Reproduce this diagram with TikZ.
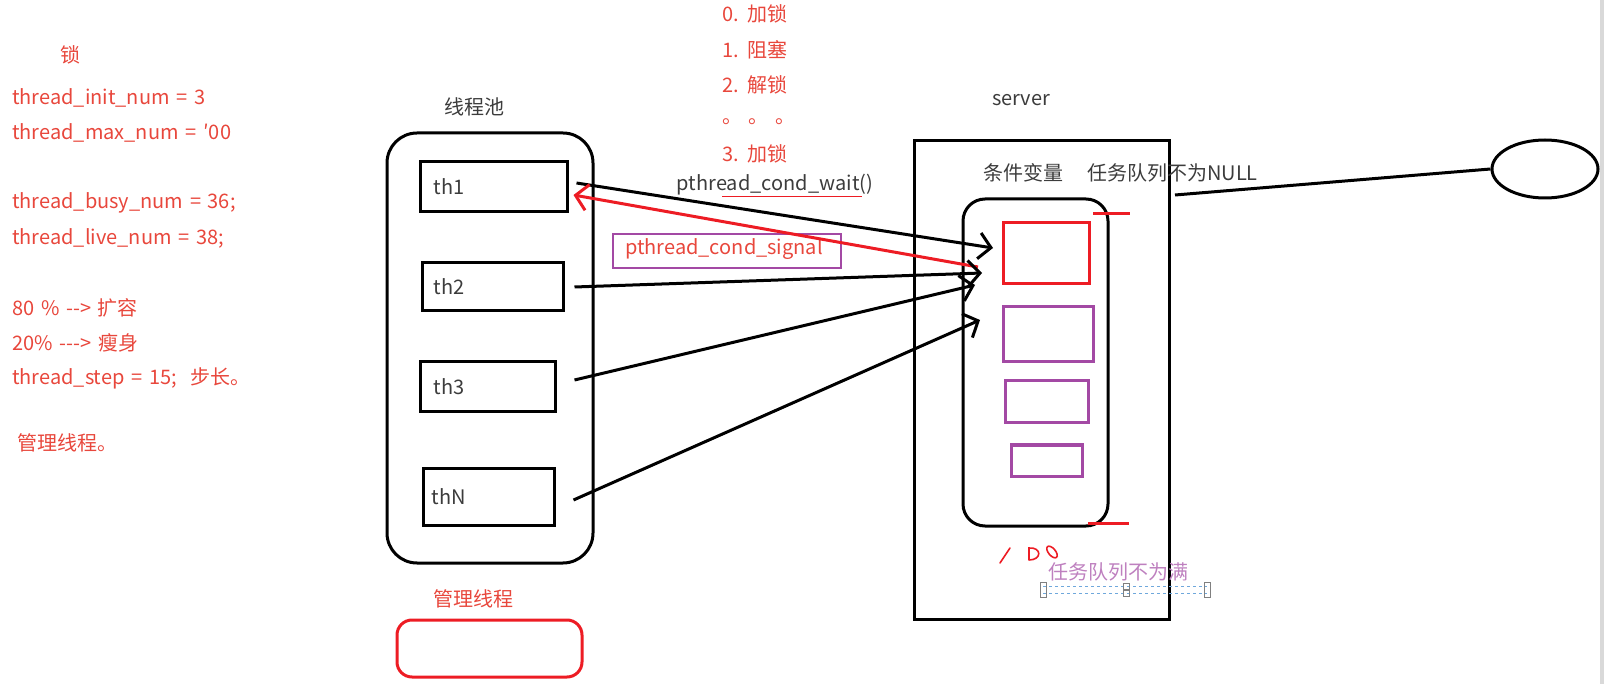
\documentclass[tikz,border=0pt]{standalone}
\usepackage{fontspec}
\setmainfont{Noto Sans CJK SC}[WordSpace=1.5]
\usepackage{tikz}
\usetikzlibrary{arrows.meta, shapes.geometric}
\definecolor{inkred}{HTML}{ED1C24}
\definecolor{notered}{HTML}{E8473C}
\definecolor{inkpurple}{HTML}{A349A4}
\definecolor{darktext}{HTML}{3C3C3C}
\definecolor{selblue}{HTML}{6FA8DC}
\newcommand{\notesize}{\fontsize{20}{24}\selectfont}

\begin{document}
\begin{tikzpicture}[x=1pt, y=-1pt, every node/.style={font=\notesize, inner sep=0pt},
  thbox/.style={draw, line width=3pt, minimum width=#1},
  qbox/.style={draw=inkpurple, line width=3pt, minimum width=#1},
  sendarrow/.style={line width=3pt, -{Straight Barb[length=12pt, width=26pt]}},
  sigarrow/.style={inkred, line width=3pt, -{Straight Barb[length=12pt, width=26pt]}}]
  \useasboundingbox (0,0) rectangle (1604,684);
  \fill[gray!30] (1600,0) rectangle (1604,684);
  % notes on the left
  \node[text=notered] at (70,55) {锁};
  \node[anchor=west, text=notered] at (12,98) {thread\_init\_num = 3};
  \node[anchor=west, text=notered] at (12,133) {thread\_max\_num = ′00};
  \node[anchor=west, text=notered] at (12,203) {thread\_busy\_num = 36;};
  \node[anchor=west, text=notered] at (12,238) {thread\_live\_num = 38;};
  \node[anchor=west, text=notered] at (12,308) {80 \% -{}-{}> 扩容};
  \node[anchor=west, text=notered] at (12,343) {20\% -{}-{}-{}> 瘦身};
  \node[anchor=west, text=notered] at (12,378) {thread\_step = 15;\ \ 步长。};
  \node[anchor=west, text=notered] at (17,443) {管理线程。};
  % steps of the wait
  \node[anchor=west, text=notered] at (722,14) {0. 加锁};
  \node[anchor=west, text=notered] at (722,50) {1. 阻塞};
  \node[anchor=west, text=notered] at (722,85) {2. 解锁};
  \node[anchor=west, text=notered] at (722,122) {。 。 。};
  \node[anchor=west, text=notered] at (722,154) {3. 加锁};
  % thread pool
  \node[text=darktext] (pooltitle) at (474,107) {线程池};
  \node[draw, line width=3pt, rounded corners=30pt, minimum width=206, minimum height=430] (pool) at (490,348) {};
  \node[thbox=147, minimum height=50] (th1) at (493.5,187) {};
  \node[thbox=141, minimum height=48] (th2) at (492.5,287) {};
  \node[thbox=135, minimum height=50] (th3) at (487.5,387) {};
  \node[thbox=131, minimum height=57] (thN) at (488.5,496.5) {};
  \node[anchor=west, text=darktext] at ([xshift=15pt]th1.west) {th1};
  \node[anchor=west, text=darktext] at ([xshift=13pt]th2.west) {th2};
  \node[anchor=west, text=darktext] at ([xshift=15pt]th3.west) {th3};
  \node[anchor=west, text=darktext] at ([xshift=10pt]thN.west) {thN};
  % manager thread
  \node[text=notered] (mgrtitle) at (473,599) {管理线程};
  \node[draw=inkred, line width=3pt, rounded corners=15pt, minimum width=185, minimum height=57] (mgr) at (489.5,648.5) {};
  % server
  \node[text=darktext] (srvtitle) at (1021,100) {server};
  \node[draw, line width=3pt, minimum width=255, minimum height=478] (srv) at (1041.5,380) {};
  \node[anchor=west, text=darktext] at (983,173) {条件变量};
  \node[anchor=west, text=darktext] at (1087,173) {任务队列不为NULL};
  \node[draw, line width=3pt, rounded corners=22pt, minimum width=145, minimum height=327] (queue) at (1035.5,362.5) {};
  \draw[inkred, line width=3pt] (1093,214) -- (1130,214);
  \draw[inkred, line width=3pt] (1088,523) -- (1129,523);
  \node[qbox=86, draw=inkred, minimum height=61] (q1) at (1046,253.5) {};
  \node[qbox=90, minimum height=55] (q2) at (1048,334.5) {};
  \node[qbox=83, minimum height=42] (q3) at (1046.5,402) {};
  \node[qbox=71, minimum height=31] (q4) at (1046.5,460.5) {};
  % handwritten 100
  \draw[inkred, line width=1.6pt, line cap=round] (1000,563) -- (1010,548);
  \draw[inkred, line width=1.6pt, line cap=round] (1029,560) -- (1029,548) .. controls (1042,547) and (1042,560) .. (1029,560);
  \draw[inkred, line width=1.6pt, rotate around={-50:(1052,552)}] (1052,552) ellipse (7 and 3.5);
  \node[anchor=west, text=inkpurple!70] (fulltext) at (1048,572) {任务队列不为满};
  \draw[selblue, dashed, line width=1pt] (1043,586) -- (1207,586);
  \draw[selblue, dashed, line width=1pt] (1043,593) -- (1207,593);
  \draw[gray, line width=0.8pt] (1040,582) rectangle (1046,597);
  \draw[gray, line width=0.8pt] (1123,583) rectangle (1129,589) (1123,590) rectangle (1129,596);
  \draw[gray, line width=0.8pt] (1204,582) rectangle (1210,597);
  % responder
  \node[draw, line width=3pt, ellipse, minimum width=106, minimum height=58] (rsp) at (1545,169) {};
  \coordinate (qtail) at (1175,195);
  \draw[line width=3pt] (qtail) -- (rsp.west);
  % wait / signal
  \node[text=darktext] (waitlabel) at (775,185) {pthread\_cond\_wait()};
  \draw[inkred, line width=1pt] (722,197) -- (862,197);
  \node[draw=inkpurple, line width=2.5pt, minimum width=228, minimum height=34] (siglabel) at (727,251) {};
  \node[text=notered] at (724,249) {pthread\_cond\_signal};
  \coordinate (w1) at (993,248);
  \coordinate (w2) at (982,273);
  \coordinate (w3) at (975,285);
  \coordinate (wN) at (980,320);
  \coordinate (s1) at (978,267);
  \draw[sendarrow] ([xshift=8pt, yshift=4pt]th1.east) -- (w1);
  \draw[sigarrow] (s1) -- ([xshift=5pt, yshift=-8pt]th1.east);
  \draw[sendarrow] ([xshift=10pt]th2.east) -- (w2);
  \draw[sendarrow] ([xshift=18pt, yshift=7pt]th3.east) -- (w3);
  \draw[sendarrow] ([xshift=18pt, yshift=-3.5pt]thN.east) -- (wN);
\end{tikzpicture}
\end{document}
